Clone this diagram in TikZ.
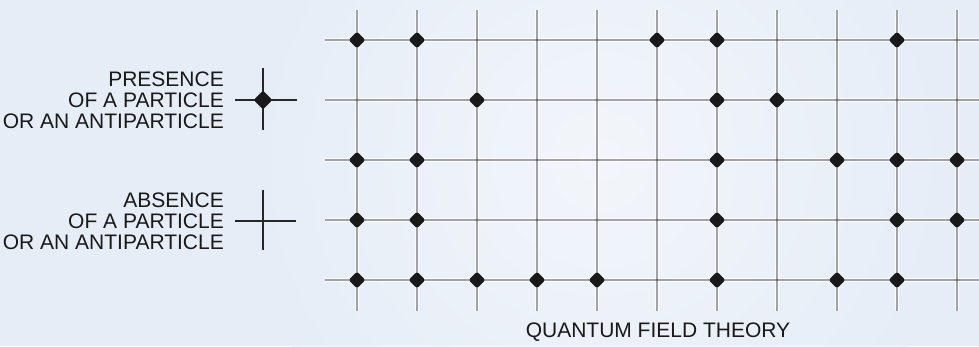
\documentclass[tikz,border=0pt]{standalone}
\usepackage{fontspec}
\setmainfont{Liberation Sans}
\usetikzlibrary{shapes.geometric,positioning}
\definecolor{bgblue}{RGB}{230,237,247}
\definecolor{wiregray}{RGB}{160,162,166}

\begin{document}
\begin{tikzpicture}[
    x=1pt, y=-1pt,
    wire/.style={draw=wiregray, line width=1.5pt},
    halo/.style={draw=white, line width=3.8pt, opacity=0.8},
    particle/.style={diamond, fill=black!90, inner sep=0pt, minimum size=17pt, rounded corners=2.5pt},
    site/.style={circle, fill=black!60, inner sep=0pt, minimum size=2.8pt},
    legendtext/.style={font=\fontsize{21}{21}\selectfont, align=right, anchor=east, inner sep=0pt, text=black!90},
    crossline/.style={draw=black!85, line width=1.6pt}
]
\useasboundingbox (0,0) rectangle (979,346);

% Background
\fill[bgblue] (0,0) rectangle (979,346);
\begin{scope}
  \clip (0,0) rectangle (979,346);
  \shade[inner color=white, outer color=bgblue, opacity=0.5] (600,160) circle (360);
\end{scope}

% Lattice
\foreach \i in {0,...,10} {
  \coordinate (top\i) at (357+60*\i, 10);
  \coordinate (bot\i) at (357+60*\i, 311);
}
\foreach \j in {0,...,4} {
  \coordinate (left\j) at (325, 40+60*\j);
  \coordinate (right\j) at (979, 40+60*\j);
}
\foreach \i in {0,...,10} \draw[halo] (top\i) -- (bot\i);
\foreach \j in {0,...,4} \draw[halo] (left\j) -- (right\j);
\foreach \i in {0,...,10} \draw[wire] (top\i) -- (bot\i);
\foreach \j in {0,...,4} \draw[wire] (left\j) -- (right\j);
\foreach \i in {0,...,10}
  \foreach \j in {0,...,4}
    \node[site] (s-\i-\j) at (357+60*\i, 40+60*\j) {};

% Occupied sites
\foreach \i/\j in {0/0,1/0,5/0,6/0,9/0,
                   2/1,6/1,7/1,
                   0/2,1/2,6/2,8/2,9/2,10/2,
                   0/3,1/3,6/3,9/3,10/3,
                   0/4,1/4,2/4,3/4,4/4,6/4,8/4,9/4}
  \node[particle] (p-\i-\j) at (s-\i-\j) {};

% Legend
\node[legendtext] (present) at (224,100) {PRESENCE\\OF A PARTICLE\\OR AN ANTIPARTICLE};
\node[legendtext] (absent) at (224,221) {ABSENCE\\OF A PARTICLE\\OR AN ANTIPARTICLE};

\coordinate (pw) at (235,100);
\coordinate (pe) at (297,100);
\coordinate (pn) at (263,68);
\coordinate (ps) at (263,130);
\draw[crossline] (pw) -- (pe);
\draw[crossline] (pn) -- (ps);
\node[particle, minimum size=19pt] (pdot) at (263,100) {};

\coordinate (aw) at (235,221);
\coordinate (ae) at (296,221);
\coordinate (an) at (263,190);
\coordinate (as) at (263,250);
\draw[crossline] (aw) -- (ae);
\draw[crossline] (an) -- (as);

% Title
\node[font=\fontsize{21}{21}\selectfont, text=black!90] (title) at (658,332) {QUANTUM FIELD THEORY};

\end{tikzpicture}
\end{document}
